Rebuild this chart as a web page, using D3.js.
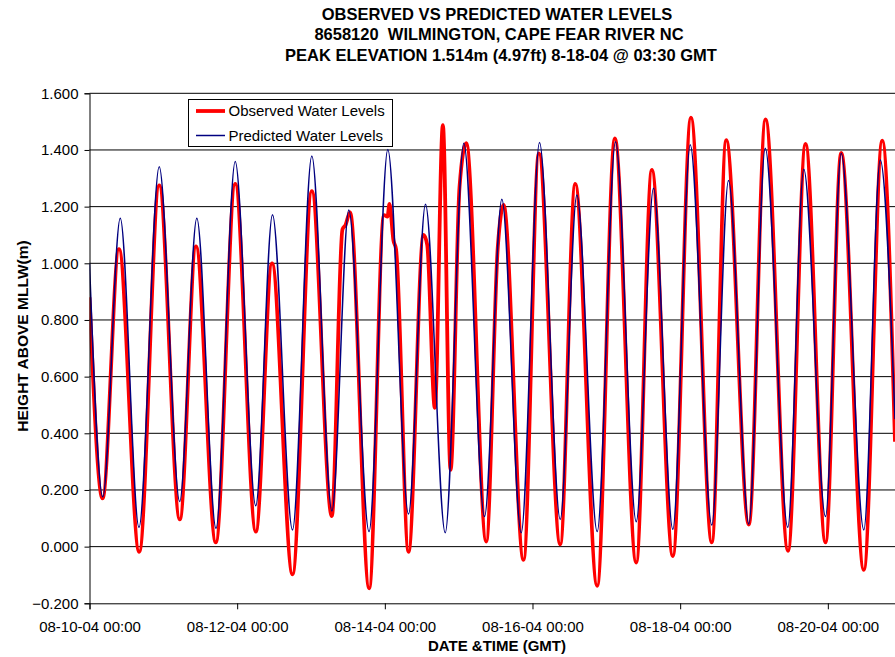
<!DOCTYPE html>
<html>
<head>
<meta charset="utf-8">
<script src="https://cdn.jsdelivr.net/npm/d3@7"></script>
<style>
  html, body { margin: 0; padding: 0; background: #fff; }
  svg { display: block; font-family: "Liberation Sans", Arial, sans-serif; }
</style>
</head>
<body>
<svg id="chart" width="895" height="657"></svg>
<script>
// ---------- data ----------
const titleLines = [
  "OBSERVED VS PREDICTED WATER LEVELS",
  "8658120  WILMINGTON, CAPE FEAR RIVER NC",
  "PEAK ELEVATION 1.514m (4.97ft) 8-18-04 @ 03:30 GMT"
];
const seriesNames = ["Observed Water Levels", "Predicted Water Levels"];

// Predicted: turning points (GMT) and heights (m)
const predTimes = [
  "2004-08-10 00:00","2004-08-10 04:19","2004-08-10 10:00","2004-08-10 16:05","2004-08-10 22:40",
  "2004-08-11 05:19","2004-08-11 10:53","2004-08-11 17:07","2004-08-11 23:22",
  "2004-08-12 06:02","2004-08-12 11:29","2004-08-12 17:59",
  "2004-08-13 00:16","2004-08-13 06:48","2004-08-13 12:17","2004-08-13 18:52",
  "2004-08-14 00:58","2004-08-14 07:42","2004-08-14 13:13","2004-08-14 19:38",
  "2004-08-15 01:40","2004-08-15 08:24","2004-08-15 14:02","2004-08-15 20:20",
  "2004-08-16 02:17","2004-08-16 09:01","2004-08-16 14:25","2004-08-16 21:02",
  "2004-08-17 02:59","2004-08-17 09:43","2004-08-17 15:20","2004-08-17 21:37",
  "2004-08-18 03:16","2004-08-18 10:17","2004-08-18 15:43","2004-08-18 22:19",
  "2004-08-19 03:39","2004-08-19 10:59","2004-08-19 16:11","2004-08-19 23:15",
  "2004-08-20 04:21","2004-08-20 11:42","2004-08-20 17:02","2004-08-20 21:50"
];
const predValues = [
  1.000,0.176,1.159,0.068,1.341,
  0.159,1.159,0.065,1.359,
  0.144,1.171,0.059,
  1.379,0.126,1.188,0.053,
  1.402,0.115,1.208,0.049,
  1.424,0.106,1.226,0.049,
  1.426,0.096,1.241,0.053,
  1.429,0.088,1.265,0.061,
  1.418,0.076,1.292,0.080,
  1.406,0.068,1.332,0.106,
  1.388,0.059,1.365,0.450
];

// Observed: turning points and irregularities (GMT) and heights (m)
const obsTimes = [
  "2004-08-10 00:00","2004-08-10 04:14","2004-08-10 09:35","2004-08-10 16:09","2004-08-10 22:40",
  "2004-08-11 05:21","2004-08-11 10:37","2004-08-11 17:03","2004-08-11 23:22",
  "2004-08-12 06:04","2004-08-12 11:20","2004-08-12 17:59",
  "2004-08-13 00:16","2004-08-13 06:46","2004-08-13 10:14","2004-08-13 11:13","2004-08-13 12:41","2004-08-13 18:55",
  "2004-08-13 23:44","2004-08-14 00:52","2004-08-14 01:31","2004-08-14 02:49","2004-08-14 03:38",
  "2004-08-14 07:42","2004-08-14 12:35","2004-08-14 13:47","2004-08-14 16:15","2004-08-14 18:52","2004-08-14 21:22",
  "2004-08-15 00:17","2004-08-15 02:28","2004-08-15 08:58","2004-08-15 12:44","2004-08-15 14:35","2004-08-15 21:05",
  "2004-08-16 02:04","2004-08-16 09:01","2004-08-16 13:53","2004-08-16 21:02",
  "2004-08-17 02:46","2004-08-17 09:43","2004-08-17 14:47","2004-08-17 21:37",
  "2004-08-18 03:30","2004-08-18 10:17","2004-08-18 14:58","2004-08-18 22:19",
  "2004-08-19 03:45","2004-08-19 11:04","2004-08-19 16:45","2004-08-19 23:15",
  "2004-08-20 04:21","2004-08-20 11:42","2004-08-20 17:41","2004-08-20 21:50"
];
const obsValues = [
  0.880,0.170,1.050,-0.018,1.275,
  0.096,1.060,0.015,1.280,
  0.053,1.000,-0.098,
  1.255,0.108,1.120,1.135,1.180,-0.147,
  1.170,1.165,1.210,1.080,1.050,
  -0.018,1.100,1.065,0.490,1.488,0.271,
  1.270,1.424,0.018,1.060,1.206,-0.047,
  1.388,0.008,1.280,-0.138,
  1.441,-0.056,1.330,-0.033,
  1.514,0.015,1.435,0.078,
  1.508,-0.015,1.421,0.015,
  1.390,-0.082,1.433,0.370
];

const xTickLabels = ["2004-08-10 00:00","2004-08-12 00:00","2004-08-14 00:00","2004-08-16 00:00","2004-08-18 00:00","2004-08-20 00:00"];
const yTickValues = [-0.2, 0.0, 0.2, 0.4, 0.6, 0.8, 1.0, 1.2, 1.4, 1.6];
const xDomain = ["2004-08-10 00:00", "2004-08-20 21:50"];
const xAxisTitle = "DATE &TIME (GMT)";
const yAxisTitle = "HEIGHT ABOVE MLLW(m)";

// ---------- drawing ----------
const parse = d3.utcParse("%Y-%m-%d %H:%M");
const fmt = d3.utcFormat("%m-%d-%y %H:%M");
const svg = d3.select("#chart");

const plot = { left: 89.5, right: 895, top: 93.3, bottom: 603.3 };
const x = d3.scaleUtc().domain(xDomain.map(parse)).range([plot.left, plot.right]);
const y = d3.scaleLinear().domain([-0.2, 1.6]).range([plot.bottom, plot.top]);

const pred = predTimes.map((t, i) => ({ t: parse(t), v: predValues[i] }));
const obs = obsTimes.map((t, i) => ({ t: parse(t), v: obsValues[i] }));

// title
svg.append("g").selectAll("text").data(titleLines).join("text")
  .attr("x", (d, i) => [497, 499, 501][i])
  .attr("y", (d, i) => 20 + i * 20.3)
  .attr("text-anchor", "middle")
  .attr("font-size", "16.5px")
  .attr("font-weight", "bold")
  .attr("fill", "#000")
  .attr("xml:space", "preserve")
  .style("white-space", "pre")
  .text(d => d);

// gridlines
svg.append("g").selectAll("line").data(yTickValues.filter(v => v > -0.2)).join("line")
  .attr("x1", plot.left).attr("x2", plot.right)
  .attr("y1", d => y(d)).attr("y2", d => y(d))
  .attr("stroke", "#000").attr("stroke-width", 1);

// clip
svg.append("defs").append("clipPath").attr("id", "clip")
  .append("rect").attr("x", plot.left).attr("y", plot.top - 10)
  .attr("width", plot.right - plot.left).attr("height", plot.bottom - plot.top + 20);

const line = d3.line().x(d => x(d.t)).y(d => y(d.v)).curve(d3.curveMonotoneX);
const lines = svg.append("g").attr("clip-path", "url(#clip)");
lines.append("path").datum(obs).attr("d", line)
  .attr("fill", "none").attr("stroke", "#ff0000").attr("stroke-width", 3.8)
  .attr("stroke-linejoin", "round");
lines.append("path").datum(pred).attr("d", line)
  .attr("fill", "none").attr("stroke", "#000080").attr("stroke-width", 1.5)
  .attr("stroke-linejoin", "round");

// y axis
const yAxis = d3.axisLeft(y).tickValues(yTickValues).tickFormat(d3.format(".3f")).tickSize(5).tickPadding(6);
const gy = svg.append("g").attr("transform", `translate(${plot.left},0)`).call(yAxis);
gy.select(".domain").attr("stroke", "#000");
gy.selectAll(".tick line").attr("stroke", "#000");
gy.selectAll("text").attr("font-size", "15px").attr("fill", "#000")
  .attr("font-family", "'Liberation Sans', Arial, sans-serif");

// x axis
const xAxis = d3.axisBottom(x).tickValues(xTickLabels.map(parse)).tickFormat(fmt).tickSize(6).tickPadding(12);
const gx = svg.append("g").attr("transform", `translate(0,${plot.bottom})`).call(xAxis);
gx.select(".domain").attr("stroke", "#000");
gx.selectAll(".tick line").attr("stroke", "#000");
gx.selectAll("text").attr("font-size", "15px").attr("fill", "#000")
  .attr("font-family", "'Liberation Sans', Arial, sans-serif");

// axis titles
svg.append("text").attr("x", 497).attr("y", 651)
  .attr("text-anchor", "middle").attr("font-size", "15px").attr("font-weight", "bold")
  .text(xAxisTitle);
svg.append("text").attr("transform", "translate(28,336) rotate(-90)")
  .attr("text-anchor", "middle").attr("font-size", "15.5px").attr("font-weight", "bold")
  .text(yAxisTitle);

// legend
const lg = svg.append("g");
lg.append("rect").attr("x", 188.5).attr("y", 99.5).attr("width", 204).attr("height", 47)
  .attr("fill", "#fff").attr("stroke", "#000").attr("stroke-width", 1);
const legendItems = [
  { name: seriesNames[0], color: "#ff0000", w: 3.8 },
  { name: seriesNames[1], color: "#000080", w: 1.5 }
];
legendItems.forEach((d, i) => {
  const cy = 111 + i * 24.5;
  lg.append("line").attr("x1", 196).attr("x2", 225).attr("y1", cy).attr("y2", cy)
    .attr("stroke", d.color).attr("stroke-width", d.w);
  lg.append("text").attr("x", 228.5).attr("y", cy + 5.4)
    .attr("font-size", "15px").attr("fill", "#000").text(d.name);
});
</script>
</body>
</html>
